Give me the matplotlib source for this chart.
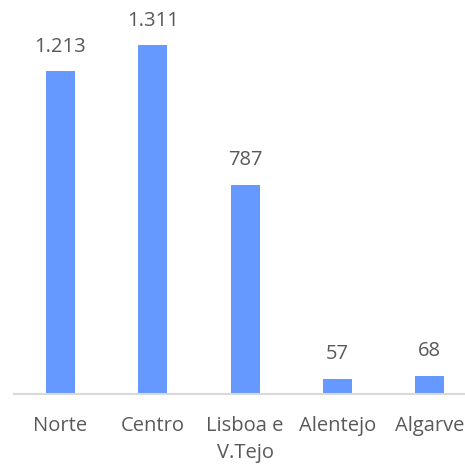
import matplotlib
matplotlib.use("Agg")
import matplotlib.pyplot as plt

regions = ["Norte", "Centro", "Lisboa e\nV.Tejo", "Alentejo", "Algarve"]
values = [1213, 1311, 787, 57, 68]

bar_color = "#6699FF"
text_color = "#595959"

fig = plt.figure(figsize=(4.65, 4.67), dpi=100)
ax = fig.add_axes([0.0309, 0.1563, 0.9925, 0.7974])

x = range(len(regions))
bars = ax.bar(x, values, width=0.315, color=bar_color, zorder=2)

ax.set_xlim(-0.5, len(regions) - 0.5)
ax.set_ylim(0, 1400)

def fmt(v):
    return f"{v:,}".replace(",", ".")

for rect, v in zip(bars, values):
    ax.annotate(fmt(v), (rect.get_x() + rect.get_width() / 2, rect.get_height()),
                xytext=(0, 10.5), textcoords="offset points", ha="center", va="bottom",
                fontsize=14.5, color=text_color, family="Open Sans")

ax.set_xticks(list(x))
ax.set_xticklabels(regions, fontsize=14.5, color=text_color, family="Open Sans",
                   linespacing=1.45)
ax.tick_params(axis="x", length=0, pad=16)
ax.set_yticks([])

for side in ["left", "right", "top"]:
    ax.spines[side].set_visible(False)
ax.spines["bottom"].set_color("#D9D9D9")
ax.spines["bottom"].set_linewidth(1.5)

fig.savefig("out.png", dpi=100)
